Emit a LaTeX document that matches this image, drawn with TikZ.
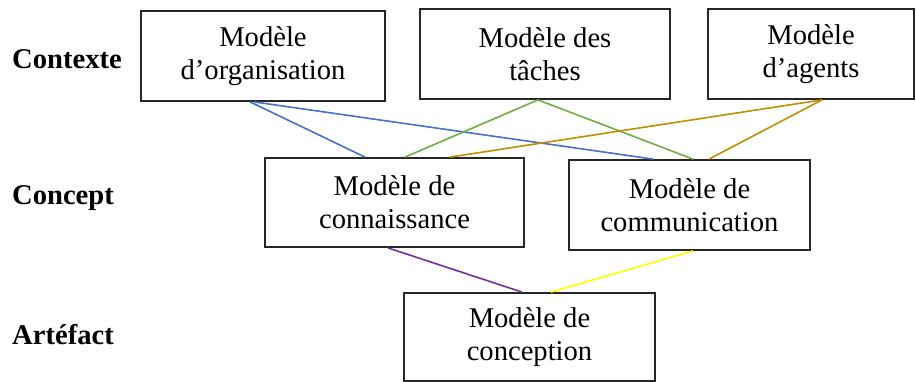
\documentclass[tikz,border=0pt]{standalone}
\usepackage{fontspec}
\setmainfont{Liberation Serif}
\usetikzlibrary{calc}
\definecolor{lnblue}{RGB}{68,114,196}
\definecolor{lngreen}{RGB}{112,173,71}
\definecolor{lngold}{RGB}{191,144,0}
\definecolor{lnpurple}{RGB}{112,48,160}
\definecolor{lnyellow}{RGB}{255,255,0}
\begin{document}
\begin{tikzpicture}[x=1pt,y=-1pt,
  modelbox/.style={draw=black!85,line width=1.8pt,rectangle,inner sep=0pt,
    align=center,font=\fontsize{28.6}{33}\selectfont},
  levellabel/.style={anchor=base west,inner sep=0pt,
    font=\fontsize{28.6}{33}\selectfont\bfseries},
  link/.style={line width=1.6pt}]
\useasboundingbox (0,0) rectangle (916,382);

% level labels
\node[levellabel] (lctx) at (12,69) {Contexte};
\node[levellabel] (lcpt) at (12,205) {Concept};
\node[levellabel] (lart) at (12,344) {Artéfact};

% context level
\node[modelbox,minimum width=244pt,minimum height=90pt] (org) at (263,56) {Modèle\\d’organisation};
\node[modelbox,minimum width=250pt,minimum height=90pt] (tach) at (545,54) {Modèle des\\tâches};
\node[modelbox,minimum width=206pt,minimum height=90pt] (agt) at (811,54) {Modèle\\d’agents};

% concept level
\node[modelbox,minimum width=259pt,minimum height=89pt] (conn) at (394.5,202.5) {Modèle de\\connaissance};
\node[modelbox,minimum width=241pt,minimum height=90pt] (comm) at (689.5,205) {Modèle de\\communication};

% artefact level
\node[modelbox,minimum width=251pt,minimum height=88pt] (conc) at (529.5,337) {Modèle de\\conception};

% links between levels
\draw[link,lnblue] ([xshift=-13pt]org.south) -- ([xshift=-29.5pt]conn.north);
\draw[link,lnblue] ([xshift=-9pt]org.south) -- ([xshift=-36.5pt]comm.north);
\draw[link,lngreen] ([xshift=-7pt]tach.south) -- ([xshift=10.5pt]conn.north);
\draw[link,lngreen] ([xshift=-7pt]tach.south) -- ([xshift=3.5pt]comm.north);
\draw[link,lngold] ([xshift=11pt]agt.south) -- ([xshift=55.5pt]conn.north);
\draw[link,lngold] ([xshift=11pt]agt.south) -- ([xshift=19.5pt]comm.north);
\draw[link,lnpurple] ([xshift=-6.5pt]conn.south) -- ([xshift=-7.5pt]conc.north);
\draw[link,lnyellow] ([xshift=3.5pt]comm.south) -- ([xshift=21.5pt]conc.north);
\end{tikzpicture}
\end{document}
